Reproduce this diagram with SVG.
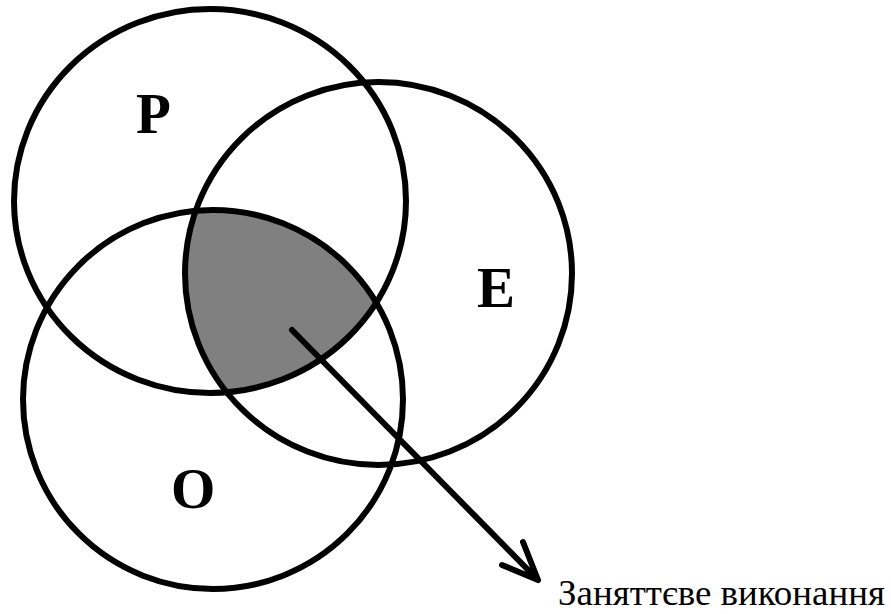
<svg xmlns="http://www.w3.org/2000/svg" width="891" height="614" viewBox="0 0 891 614">
<style>
.c{fill:none;stroke:#000;stroke-width:6}
.lbl{font-family:"Liberation Serif","Times New Roman",serif;font-weight:bold;font-size:57px;fill:#000}
.cap{font-family:"Liberation Serif","Times New Roman",serif;font-size:35px;fill:#000}
.arr{fill:none;stroke:#000;stroke-width:6;stroke-linecap:round;stroke-linejoin:round}
</style>
<defs>
<clipPath id="clipP"><ellipse cx="210" cy="201" rx="196" ry="192"/></clipPath>
<clipPath id="clipE"><ellipse cx="378.5" cy="273.5" rx="193.5" ry="191.5"/></clipPath>
</defs>
<rect width="891" height="614" fill="#fff"/>
<g id="overlap">
<g clip-path="url(#clipP)"><g clip-path="url(#clipE)">
<ellipse cx="213" cy="399.5" rx="190" ry="189.5" fill="#808080"/>
</g></g>
</g>
<g id="node-P">
<ellipse class="c" cx="210" cy="201" rx="196" ry="192"/>
<text class="lbl" x="136" y="133">P</text>
</g>
<g id="node-E">
<ellipse class="c" cx="378.5" cy="273.5" rx="193.5" ry="191.5"/>
<text class="lbl" x="477" y="307">E</text>
</g>
<g id="node-O">
<ellipse class="c" cx="213" cy="399.5" rx="190" ry="189.5"/>
<text class="lbl" x="171" y="508">O</text>
</g>
<g id="connectors">
<path class="arr" d="M292,330 L538,580 M523,542 L538,580 L502,565"/>
</g>
<g id="caption">
<text class="cap" x="558" y="605" textLength="327" lengthAdjust="spacingAndGlyphs">Заняттєве виконання</text>
</g>
</svg>
